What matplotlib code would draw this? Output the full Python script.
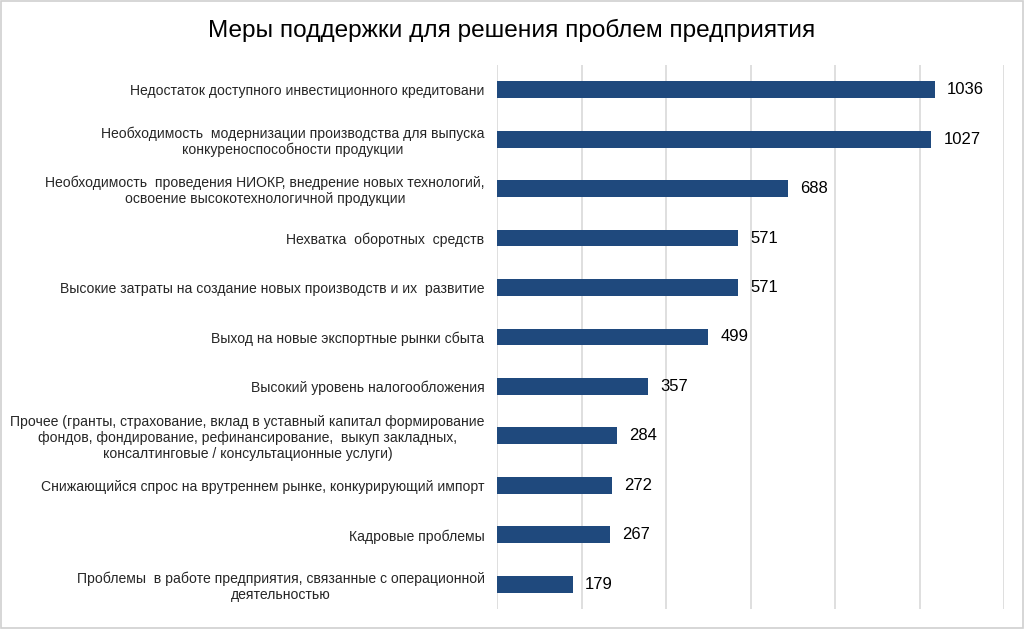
import matplotlib.pyplot as plt

plt.rcParams['font.family'] = ['Liberation Sans', 'DejaVu Sans']

labels = [
    "Недостаток доступного инвестиционного кредитовани",
    "Необходимость  модернизации производства для выпуска\nконкуреноспособности продукции",
    "Необходимость  проведения НИОКР, внедрение новых технологий,\nосвоение высокотехнологичной продукции",
    "Нехватка  оборотных  средств",
    "Высокие затраты на создание новых производств и их  развитие",
    "Выход на новые экспортные рынки сбыта",
    "Высокий уровень налогообложения",
    "Прочее (гранты, страхование, вклад в уставный капитал формирование\nфондов, фондирование, рефинансирование,  выкуп закладных,\nконсалтинговые / консультационные услуги)",
    "Снижающийся спрос на врутреннем рынке, конкурирующий импорт",
    "Кадровые проблемы",
    "Проблемы  в работе предприятия, связанные с операционной\nдеятельностью",
]
values = [1036, 1027, 688, 571, 571, 499, 357, 284, 272, 267, 179]

fig = plt.figure(figsize=(10.24, 6.29), dpi=100)
ax = fig.add_axes([0.4854, 0.0318, 0.4951, 0.8649])

pos = list(range(len(labels)))
bars = ax.barh(pos, values, height=0.34, color='#1F497D')
ax.bar_label(bars, labels=[str(v) for v in values], padding=9, fontsize=12)

ax.set_xlim(0, 1200)
ax.set_ylim(len(labels) - 0.5, -0.5)
ax.set_xticks(range(0, 1201, 200))
ax.set_xticklabels([])
ax.tick_params(length=0)
ax.set_yticks(pos)
ax.set_yticklabels(labels, fontsize=10.1, color='#262626')
ax.tick_params(axis='y', pad=9)
for lbl in ax.get_yticklabels():
    lbl.set_multialignment('center')
    lbl.set_linespacing(1.18)

ax.grid(axis='x', color='#d9d9d9', linewidth=1.2)
ax.set_axisbelow(True)
for s in ax.spines.values():
    s.set_visible(False)

fig.text(0.5, 0.951, "Меры поддержки для решения проблем предприятия",
         ha='center', va='center', fontsize=17.6)

fig.patches.append(plt.Rectangle((0.001, 0.001), 0.998, 0.997, transform=fig.transFigure,
                                 fill=False, edgecolor='#d0d0d0', linewidth=1.2))

fig.savefig('out.png', dpi=100)
